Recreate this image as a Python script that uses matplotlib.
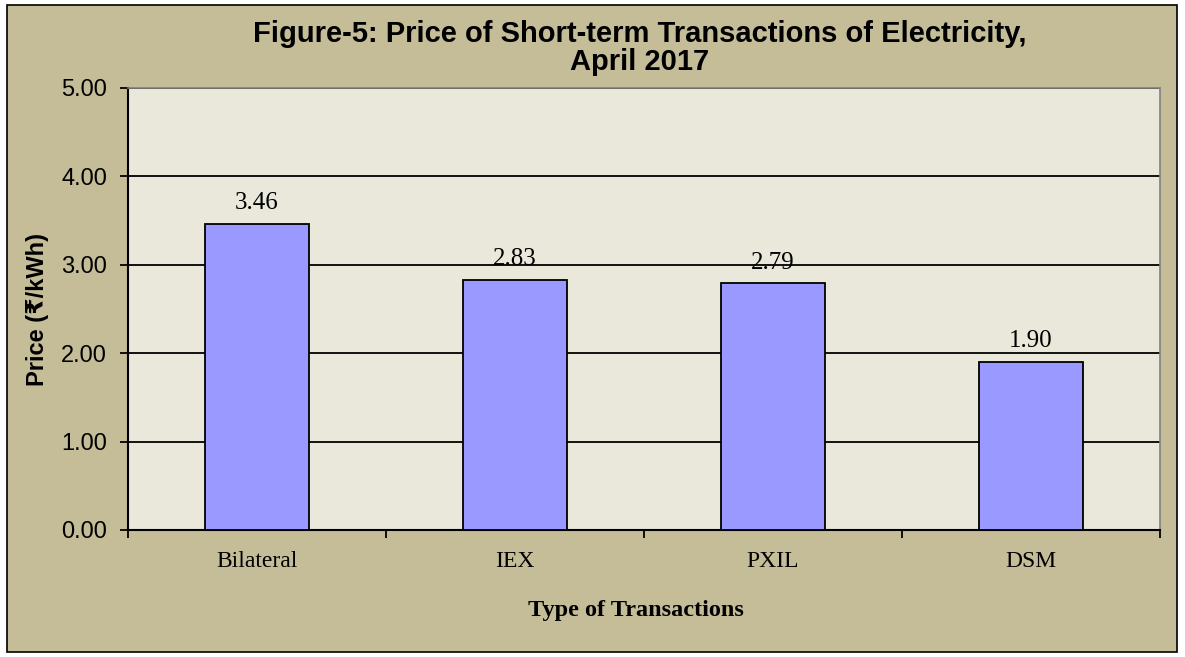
import matplotlib
matplotlib.use("Agg")
import matplotlib.pyplot as plt
from matplotlib.patches import Rectangle

categories = ["Bilateral", "IEX", "PXIL", "DSM"]
prices = [3.46, 2.83, 2.79, 1.90]
yticks = [0, 1, 2, 3, 4, 5]

fig = plt.figure(figsize=(11.85, 6.57), dpi=100)
fig.patch.set_facecolor("white")
# outer chart area
fig.patches.append(Rectangle((7/1185, 1-652/657), 1170/1185, 647/657, transform=fig.transFigure,
                             facecolor="#C4BD97", edgecolor="black", linewidth=1.2, zorder=-10))

ax = fig.add_axes([128/1185, 1-530/657, 1032/1185, 442/657])
ax.set_facecolor("#EAE7DB")
x = list(range(len(categories)))
ax.bar(x, prices, width=0.4, color="#9999FF", edgecolor="black", linewidth=1.3, zorder=3)
ax.set_xlim(-0.5, len(categories) - 0.5)
ax.set_ylim(0, 5)
ax.set_yticks(yticks)
ax.set_yticklabels([f"{v:.2f}" for v in yticks], fontsize=17, family="Liberation Sans")
ax.yaxis.grid(True, color="black", linewidth=1.3, zorder=1)
ax.set_axisbelow(True)
ax.set_xticks([i - 0.5 for i in range(len(categories) + 1)])
ax.set_xticklabels([])
ax.set_xticks(x, minor=True)
ax.set_xticklabels(categories, minor=True, fontsize=17, family="Liberation Serif")
ax.tick_params(axis="x", which="minor", length=0, pad=15)
ax.tick_params(axis="x", which="major", length=6, width=1.3, direction="out")
ax.tick_params(axis="y", length=6, width=1.3, pad=9)
for s in ["top", "right"]:
    ax.spines[s].set_color("#808080")
    ax.spines[s].set_linewidth(1.2)
for s in ["left", "bottom"]:
    ax.spines[s].set_color("black")
    ax.spines[s].set_linewidth(1.5)

for xi, v in zip(x, prices):
    ax.annotate(f"{v:.2f}", (xi, v), xytext=(0, 7), textcoords="offset points",
                ha="center", va="bottom", fontsize=18, family="Liberation Serif")

ax.set_ylabel("Price (₹/kWh)", fontsize=17, fontweight="bold",
              family=["Liberation Sans", "DejaVu Sans"], labelpad=9)
ax.set_xlabel("Type of Transactions", fontsize=17.5, fontweight="bold",
              family="Liberation Serif", labelpad=20)
ax.xaxis.label.set_x(0.492)

fig.text(0.540, 1-48/657, "Figure-5: Price of Short-term Transactions of Electricity,\nApril 2017",
         ha="center", va="center", fontsize=21, fontweight="bold", family="Liberation Sans",
         linespacing=1.0)

fig.savefig("out.png", dpi=100, facecolor=fig.get_facecolor())
